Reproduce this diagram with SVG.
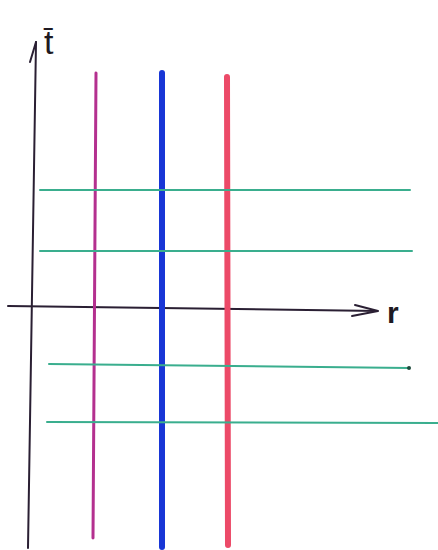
<svg xmlns="http://www.w3.org/2000/svg" width="438" height="550" viewBox="0 0 438 550">
<style>
.ax{stroke:#2a1f33;stroke-width:2;fill:none;stroke-linecap:round}
.g{stroke:#3aae8e;stroke-width:2;fill:none;stroke-linecap:round}
.lbl{font-family:"Liberation Sans",Arial,sans-serif;fill:#1e1a22}
</style>
<rect width="438" height="550" fill="#fff"/>
<g id="axes">
<path class="ax" d="M36 42 L28 548"/>
<path class="ax" d="M36 42 L30 62"/>
<path class="ax" d="M8 306 L378 311"/>
<path class="ax" d="M355 305 L378 311 L352 316"/>
</g>
<g id="label-t"><text class="lbl" x="44" y="54" font-size="34">t̄</text></g>
<g id="label-r"><text class="lbl" x="387" y="323" font-size="30" font-weight="bold">r</text></g>
<g id="vertical-lines">
<path d="M96 73 L93 538" stroke="#b4308f" stroke-width="3" fill="none" stroke-linecap="round"/>
<path d="M162 73 L162 547" stroke="#1836d6" stroke-width="6" fill="none" stroke-linecap="round"/>
<path d="M227 77 L228 545" stroke="#ec4a68" stroke-width="6" fill="none" stroke-linecap="round"/>
</g>
<g id="horizontal-lines">
<path class="g" d="M40 190 L410 190"/>
<path class="g" d="M40 251 L412 251"/>
<path class="g" d="M49 364 L409 368"/>
<circle cx="409" cy="368" r="2" fill="#1e4a3c"/>
<path class="g" d="M47 422 L438 423"/>
</g>
</svg>
